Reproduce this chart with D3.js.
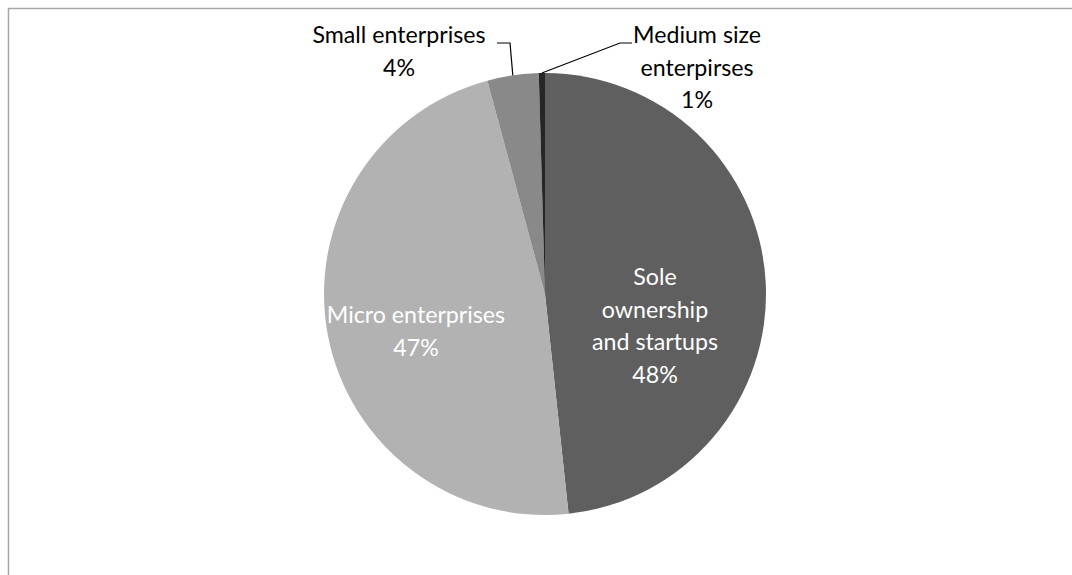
<!DOCTYPE html>
<html>
<head>
<meta charset="utf-8">
<script src="https://cdn.jsdelivr.net/npm/d3@7"></script>
<style>
  body { margin: 0; background: #fff; }
  svg { display: block; font-family: "Lato", "Open Sans", sans-serif; }
</style>
</head>
<body>
<svg id="chart"></svg>
<script>
// data
const categories = ["Sole ownership and startups", "Micro enterprises", "Small enterprises", "Medium size enterpirses"];
const shares = [48.3, 47.5, 3.75, 0.45];
const shownPct = ["48%", "47%", "4%", "1%"];
const sliceColors = ["#5f5f5f", "#b2b2b2", "#898989", "#262626"];

const width = 1072, height = 575;
const cx = 545, cy = 294, radius = 221;
const fontSize = 23.2;

const svg = d3.select('#chart')
    .attr('width', width)
    .attr('height', height);

// chart area border (right and bottom fall off the page)
svg.append('rect')
    .attr('x', 8.5).attr('y', 8.5)
    .attr('width', 1100).attr('height', 600)
    .attr('fill', 'none')
    .attr('stroke', '#a6a6a6')
    .attr('stroke-width', 1.5);

const data = categories.map(function(c, i) {
    return {name: c, value: shares[i], pct: shownPct[i], color: sliceColors[i]};
});

const pie = d3.pie()
    .sort(null)
    .value(d => d.value);
const arcs = pie(data);

const arc = d3.arc().innerRadius(0).outerRadius(radius);

const g = svg.append('g')
    .attr('transform', 'translate(' + cx + ',' + cy + ')');

g.selectAll('path.slice')
    .data(arcs)
    .enter()
    .append('path')
    .attr('class', 'slice')
    .attr('d', arc)
    .attr('fill', d => d.data.color);

// multi-line label helper
function label(x, y, lines, color, step) {
    const t = svg.append('text')
        .attr('text-anchor', 'middle')
        .attr('fill', color)
        .attr('font-size', fontSize);
    lines.forEach(function(l, i) {
        t.append('tspan').attr('x', x).attr('y', y + i * step).text(l);
    });
}

// inside labels
label(655, 285, ["Sole", "ownership", "and startups", arcs[0].data.pct], '#fff', 32.5);
label(416, 323, ["Micro enterprises", arcs[1].data.pct], '#fff', 32.5);

// outside labels
label(399, 43, ["Small enterprises", arcs[2].data.pct], '#000', 32.5);
label(697, 43, ["Medium size", "enterpirses", arcs[3].data.pct], '#000', 32.5);

// leader lines
function edgePoint(d) {
    const a = (d.startAngle + d.endAngle) / 2;
    return [cx + radius * Math.sin(a), cy - radius * Math.cos(a)];
}
const pSmall = edgePoint(arcs[2]);
const pMed = edgePoint(arcs[3]);

svg.append('path')
    .attr('d', d3.line()([[497, 43], [510, 43], pSmall]))
    .attr('fill', 'none').attr('stroke', '#000').attr('stroke-width', 1.2);
svg.append('path')
    .attr('d', d3.line()([pMed, [620, 43], [632, 43]]))
    .attr('fill', 'none').attr('stroke', '#000').attr('stroke-width', 1.2);
</script>
</body>
</html>
